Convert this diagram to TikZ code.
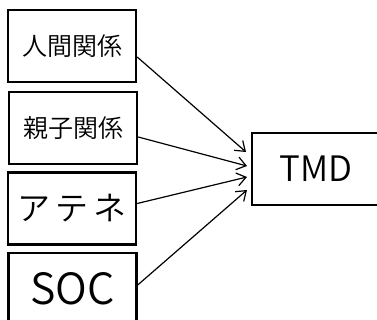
\documentclass[tikz,border=0pt]{standalone}
\usepackage{fontspec}
\newfontfamily\jp{Noto Sans CJK JP DemiLight}
\usetikzlibrary{arrows.meta}
\begin{document}
\begin{tikzpicture}[x=1pt,y=-1pt,
  box/.style={draw=black,line width=2.4pt,minimum width=128pt,minimum height=72pt,inner sep=0pt,font=\jp},
  conn/.style={line width=1.2pt,-{Straight Barb[length=9pt,width=13pt,line width=1.2pt]}}]
\useasboundingbox (0,0) rectangle (377,320);
\clip (0,0) rectangle (377,320);
\fill[white] (0,0) rectangle (377,320);
\node[box,font=\jp\fontsize{25}{25}\selectfont] (a) at (72,46) {人間関係};
\node[box,font=\jp\fontsize{25}{25}\selectfont] (b) at (73,128) {親子関係};
\node[box,font=\jp\fontsize{33}{33}\selectfont] (c) at (72,208.5) {ア\,テ\,ネ};
\node[box,font=\jp\fontsize{43}{43}\selectfont] (d) at (72.5,289) {SOC};
\node[box,font=\jp\fontsize{35}{35}\selectfont] (t) at (316,169) {TMD};
\coordinate (t1) at (246,152);
\coordinate (t2) at (247,166);
\coordinate (t3) at (247,177);
\coordinate (t4) at (247,190);
\draw[conn] ([yshift=-11pt]a.east) -- (t1);
\draw[conn] ([yshift=-9pt]b.east) -- (t2);
\draw[conn] ([yshift=5pt]c.east) -- (t3);
\draw[conn] ([yshift=4pt]d.east) -- (t4);
\end{tikzpicture}
\end{document}
